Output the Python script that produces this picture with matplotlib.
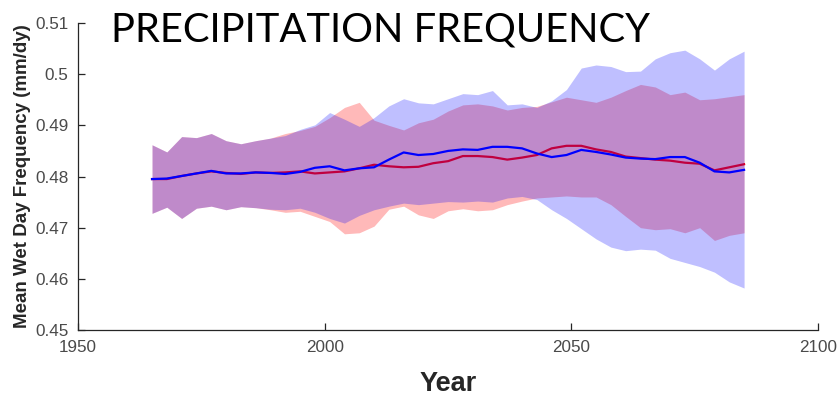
import matplotlib
matplotlib.use('Agg')
import matplotlib.pyplot as plt
from matplotlib.ticker import FuncFormatter

years = [1965, 1968, 1971, 1974, 1977, 1980, 1983, 1986, 1989, 1992,
         1995, 1998, 2001, 2004, 2007, 2010, 2013, 2016, 2019, 2022,
         2025, 2028, 2031, 2034, 2037, 2040, 2043, 2046, 2049, 2052,
         2055, 2058, 2061, 2064, 2067, 2070, 2073, 2076, 2079, 2082, 2085]

# red ensemble: mean and spread
red_mean = [0.4795, 0.4795, 0.4801, 0.4806, 0.4810, 0.4807, 0.4805, 0.4808, 0.4807, 0.4808,
            0.4810, 0.4806, 0.4808, 0.4810, 0.4816, 0.4823, 0.4820, 0.4818, 0.4819, 0.4826,
            0.4830, 0.4840, 0.4840, 0.4838, 0.4833, 0.4837, 0.4842, 0.4855, 0.4860, 0.4860,
            0.4853, 0.4848, 0.4839, 0.4836, 0.4833, 0.4831, 0.4827, 0.4825, 0.4812, 0.4818, 0.4824]
red_upper = [0.4862, 0.4848, 0.4878, 0.4876, 0.4884, 0.4870, 0.4864, 0.4870, 0.4875, 0.4884,
             0.4890, 0.4898, 0.4915, 0.4935, 0.4945, 0.4910, 0.4900, 0.4891, 0.4905, 0.4912,
             0.4928, 0.4940, 0.4942, 0.4938, 0.4930, 0.4935, 0.4937, 0.4946, 0.4955, 0.4950,
             0.4945, 0.4955, 0.4968, 0.4980, 0.4975, 0.4960, 0.4965, 0.4950, 0.4952, 0.4956, 0.4960]
red_lower = [0.4728, 0.4740, 0.4718, 0.4738, 0.4742, 0.4735, 0.4741, 0.4739, 0.4735, 0.4730,
             0.4732, 0.4722, 0.4712, 0.4688, 0.4690, 0.4703, 0.4736, 0.4742, 0.4725, 0.4718,
             0.4733, 0.4737, 0.4733, 0.4735, 0.4745, 0.4752, 0.4758, 0.4760, 0.4762, 0.4760,
             0.4760, 0.4745, 0.4722, 0.4700, 0.4696, 0.4698, 0.4690, 0.4700, 0.4675, 0.4685, 0.4690]

# blue ensemble: mean and spread
blue_mean = [0.4795, 0.4796, 0.4801, 0.4806, 0.4811, 0.4806, 0.4806, 0.4808, 0.4807, 0.4805,
             0.4809, 0.4817, 0.4820, 0.4812, 0.4816, 0.4818, 0.4833, 0.4847, 0.4842, 0.4844,
             0.4850, 0.4853, 0.4852, 0.4858, 0.4858, 0.4855, 0.4845, 0.4838, 0.4842, 0.4852,
             0.4848, 0.4843, 0.4837, 0.4835, 0.4834, 0.4838, 0.4838, 0.4827, 0.4810, 0.4808, 0.4813]
blue_upper = [0.4862, 0.4848, 0.4878, 0.4876, 0.4884, 0.4870, 0.4864, 0.4870, 0.4875, 0.4880,
              0.4892, 0.4901, 0.4925, 0.4912, 0.4898, 0.4915, 0.4938, 0.4952, 0.4944, 0.4942,
              0.4952, 0.4962, 0.4960, 0.4968, 0.4940, 0.4942, 0.4935, 0.4948, 0.4970, 0.5012,
              0.5018, 0.5015, 0.5005, 0.5006, 0.5030, 0.5042, 0.5047, 0.5030, 0.5008, 0.5030, 0.5045]
blue_lower = [0.4728, 0.4740, 0.4718, 0.4738, 0.4742, 0.4735, 0.4741, 0.4739, 0.4736, 0.4735,
              0.4738, 0.4730, 0.4718, 0.4709, 0.4724, 0.4735, 0.4742, 0.4748, 0.4745, 0.4748,
              0.4751, 0.4750, 0.4752, 0.4750, 0.4758, 0.4761, 0.4755, 0.4735, 0.4718, 0.4698,
              0.4678, 0.4662, 0.4655, 0.4658, 0.4656, 0.4640, 0.4632, 0.4624, 0.4613, 0.4594, 0.4582]

fig = plt.figure(figsize=(8.4, 3.97), dpi=100)
ax = fig.add_axes([0.0929, 0.1688, 0.881, 0.7732])

# draw order matters: blue shading sits over the red mean line
ax.fill_between(years, red_lower, red_upper, color='red', alpha=0.275, linewidth=0, zorder=1)
ax.plot(years, red_mean, color='red', linewidth=1.6, zorder=2)
ax.fill_between(years, blue_lower, blue_upper, color='blue', alpha=0.25, linewidth=0, zorder=3)
ax.plot(years, blue_mean, color='blue', linewidth=1.6, zorder=4)

ax.set_xlim(1950, 2100)
ax.set_ylim(0.45, 0.51)
ax.set_xticks([1950, 2000, 2050, 2100])
ax.set_yticks([0.45, 0.46, 0.47, 0.48, 0.49, 0.50, 0.51])
ax.yaxis.set_major_formatter(FuncFormatter(lambda v, p: '%g' % round(v, 2)))

for s in ['top', 'right']:
    ax.spines[s].set_visible(False)
for s in ['left', 'bottom']:
    ax.spines[s].set_color('#262626')
    ax.spines[s].set_linewidth(0.9)

ax.tick_params(direction='in', length=5, width=0.9, colors='#262626',
               labelcolor='#4a4a4a', labelsize=12.3)
ax.tick_params(axis='x', pad=7)
ax.tick_params(axis='y', pad=7)
for lab in ax.get_xticklabels() + ax.get_yticklabels():
    lab.set_family('Liberation Sans')

ax.set_xlabel('Year', fontsize=19.5, fontweight='bold', color='#262626',
              family='Liberation Sans', labelpad=12)
ax.set_ylabel('Mean Wet Day Frequency (mm/dy)', fontsize=13.5, fontweight='bold',
              color='#262626', family='Liberation Sans', labelpad=3)

fig.text(0.453, 0.924, 'PRECIPITATION FREQUENCY', fontsize=28.7, family='Lato',
         ha='center', va='center', color='black')

fig.savefig('out.png', dpi=100)
